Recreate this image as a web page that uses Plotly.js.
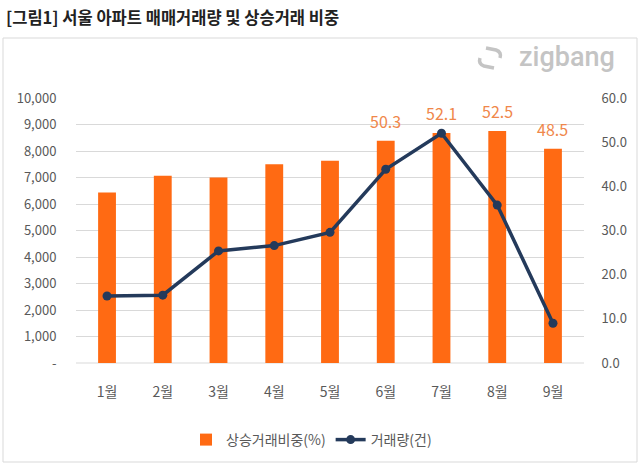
<!DOCTYPE html>
<html><head><meta charset="utf-8">
<script src="https://cdn.plot.ly/plotly-3.0.1.min.js"></script>
<style>html,body{margin:0;padding:0;background:#fff}#c{width:640px;height:472px}</style>
</head><body><div id="c"></div>
<script>
const months = ['1월','2월','3월','4월','5월','6월','7월','8월','9월'];
const riseShare = [38.6, 42.4, 42.0, 45.0, 45.8, 50.3, 52.1, 52.5, 48.5];
const volume = [2530, 2560, 4230, 4430, 4930, 7310, 8670, 5960, 1500];
const shownLabels = [false, false, false, false, false, true, true, true, true];
const leftTicks = [0,1000,2000,3000,4000,5000,6000,7000,8000,9000,10000];
const leftTickText = ['-','1,000','2,000','3,000','4,000','5,000','6,000','7,000','8,000','9,000','10,000'];
const rightTicks = [0,10,20,30,40,50,60];
const rightTickText = ['0.0','10.0','20.0','30.0','40.0','50.0','60.0'];

const W=640,H=472,L=76,R=56,T=98,B=109;
const pw=W-L-R, ph=H-T-B;
const px = x => (x-L)/pw, py = y => (H-B-y)/ph;
const FONT = '"Noto Sans CJK KR", "Noto Sans", sans-serif';

const traces = [
  {type:'bar', name:'상승거래비중(%)', x:months, y:riseShare, yaxis:'y',
   marker:{color:'#FF6A13'}, width:0.32},
  {type:'scatter', mode:'lines+markers', name:'거래량(건)', x:months, y:volume, yaxis:'y2',
   line:{color:'#243A5B', width:3.5}, marker:{color:'#243A5B', size:9}}
];

const labelAnns = months.map((m,i)=> shownLabels[i] ? {
  xref:'x', yref:'y', x:m, y:riseShare[i], yshift:20, showarrow:false,
  xanchor:'center', yanchor:'middle', text:riseShare[i].toFixed(1),
  font:{size:16, color:'#F0874A', family:FONT}} : null).filter(a=>a);

const layout = {
  width:W, height:H, margin:{l:L,r:R,t:T,b:B},
  paper_bgcolor:'#fff', plot_bgcolor:'#fff',
  font:{family:FONT, color:'#595959'},
  showlegend:true,
  legend:{orientation:'h', x:px(186), y:py(424), xanchor:'left', yanchor:'top',
          font:{size:14, color:'#595959', family:FONT}, traceorder:'normal',
          bgcolor:'rgba(0,0,0,0)'},
  xaxis:{type:'category', showgrid:false, zeroline:false, showline:false,
         tickfont:{size:14, color:'#595959'}, ticks:'outside', ticklen:16, tickcolor:'rgba(0,0,0,0)', automargin:false},
  yaxis:{range:[0,60], side:'right', tickvals:rightTicks, ticktext:rightTickText,
         showgrid:false, zeroline:false, showline:false,
         tickfont:{size:13, color:'#595959'}, ticks:'outside', ticklen:14, tickcolor:'rgba(0,0,0,0)', automargin:false},
  yaxis2:{range:[0,10000], overlaying:'y', side:'left', tickvals:leftTicks, ticktext:leftTickText,
          showgrid:true, gridcolor:'#D9D9D9', gridwidth:1, zeroline:false, showline:false,
          tickfont:{size:13, color:'#595959'}, ticks:'outside', ticklen:16, tickcolor:'rgba(0,0,0,0)', automargin:false},
  shapes:[
    {type:'rect', xref:'paper', yref:'paper', x0:px(3), x1:px(637), y0:py(462), y1:py(38),
     line:{color:'#D9D9D9', width:1}, fillcolor:'rgba(0,0,0,0)', layer:'below'},
    {type:'line', xref:'paper', yref:'paper', x0:0, x1:1, y0:0, y1:0, line:{color:'#D9D9D9', width:1}, layer:'below'},
    {type:'path', xref:'paper', yref:'paper',
     path:`M ${px(486)} ${py(48)} L ${px(496)} ${py(50)} Q ${px(502)} ${py(52)} ${px(500)} ${py(58)} M ${px(494)} ${py(68)} L ${px(484)} ${py(66)} Q ${px(478)} ${py(64)} ${px(480)} ${py(58)}`,
     line:{color:'#C4C4C4', width:3.5}}
  ],
  annotations:[
    {xref:'paper', yref:'paper', x:px(4), y:py(17), xanchor:'left', yanchor:'middle', showarrow:false,
     text:'<b>[그림1] 서울 아파트 매매거래량 및 상승거래 비중</b>', font:{size:16.5, color:'#222', family:FONT}},
    {xref:'paper', yref:'paper', x:px(617), y:py(57), xanchor:'right', yanchor:'middle', showarrow:false,
     text:'zigbang', font:{size:27, color:'#C4C4C4', family:'Roboto, sans-serif', weight:500}}
  ].concat(labelAnns)
};
Plotly.newPlot('c', traces, layout, {displayModeBar:false, staticPlot:true});
</script></body></html>
